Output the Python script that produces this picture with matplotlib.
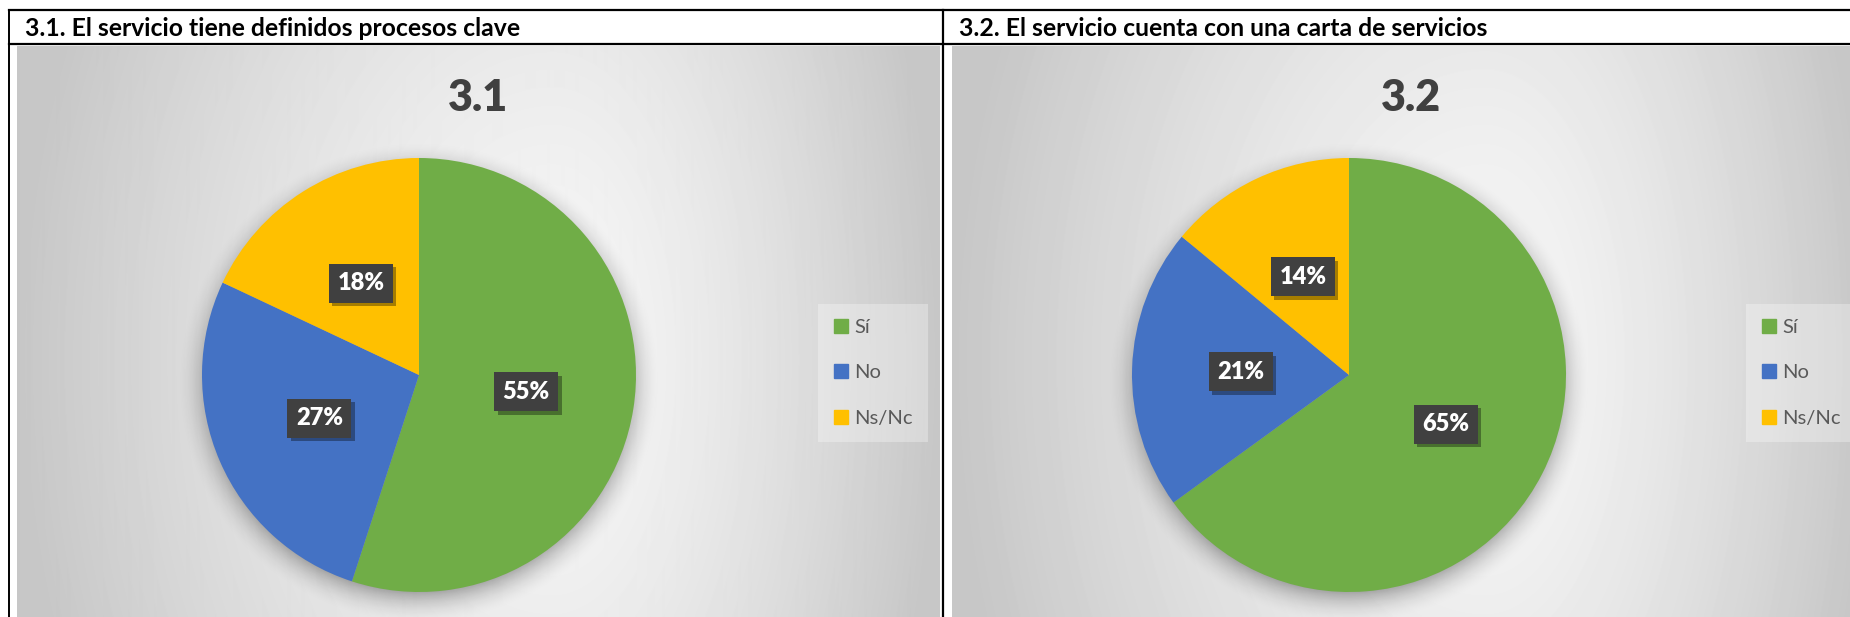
import numpy as np
import matplotlib.pyplot as plt
import matplotlib.patheffects as pe
from matplotlib.lines import Line2D

plt.rcParams['font.family'] = ['Lato', 'DejaVu Sans']

# data
categories = ['Sí', 'No', 'Ns/Nc']
colors = ['#70AD47', '#4472C4', '#FFC000']
headers = ['3.1. El servicio tiene definidos procesos clave',
           '3.2. El servicio cuenta con una carta de servicios']
titles = ['3.1', '3.2']
values_31 = [55, 27, 18]
values_32 = [65, 21, 14]

W, H = 1850, 617
fig = plt.figure(figsize=(W / 100, H / 100), dpi=100)


def rect(x0, y0, x1, y1):
    # pixel box measured from top-left -> figure fraction
    return [x0 / W, 1 - y1 / H, (x1 - x0) / W, (y1 - y0) / H]


def background(w, h):
    yy, xx = np.mgrid[0:h, 0:w].astype(float)
    cx, cy = 0.58 * w, 0.55 * h
    dx = (xx - cx) / np.where(xx < cx, cx, w - cx)
    dy = (yy - cy) / (1.4 * h)
    d = np.clip(np.sqrt(dx ** 2 + dy ** 2), 0, 1)
    return 0.968 - 0.19 * d ** 1.4


panels = [
    dict(box=(17, 46, 939, 617), pie=(419, 375), legend=(818, 304), head_x=25,
         values=values_31, header=headers[0], title=titles[0]),
    dict(box=(952, 46, 1870, 617), pie=(1349, 375), legend=(1746, 304), head_x=959,
         values=values_32, header=headers[1], title=titles[1]),
]

R = 217          # pie radius in pixels
EXT = 1.35       # axes half-width in pie radii

for p in panels:
    x0, y0, x1, y1 = p['box']
    bg = fig.add_axes(rect(x0, y0, x1, y1))
    bg.imshow(background(x1 - x0, y1 - y0), cmap='gray', vmin=0, vmax=1,
              aspect='auto', interpolation='bilinear')
    bg.axis('off')

    cx, cy = p['pie']
    half = R * EXT
    ax = fig.add_axes(rect(cx - half, cy - half, cx + half, cy + half))

    # soft shadow under the pie
    gy, gx = np.mgrid[-EXT:EXT:500j, -EXT:EXT:500j]
    d = np.hypot(gx, gy + 0.035)
    a = 0.32 * np.clip((1.12 - d) / 0.16, 0, 1) ** 2
    sh = np.zeros((500, 500, 4))
    sh[..., 3] = a
    ax.imshow(sh, origin='lower', extent=(-EXT, EXT, -EXT, EXT), zorder=0)

    wedges, texts, autotexts = ax.pie(
        p['values'], colors=colors, startangle=90, counterclock=False,
        radius=1, autopct=lambda v: f'{v:.0f}%', pctdistance=0.5,
        textprops=dict(color='white', fontsize=17, fontweight='heavy'))
    for w in wedges:
        w.set_zorder(2)
    for t in autotexts:
        t.set_zorder(3)
        t.set_bbox(dict(boxstyle='square,pad=0.36', fc='#404040', ec='none'))
        t.get_bbox_patch().set_path_effects(
            [pe.SimplePatchShadow(offset=(2.5, -2.5), shadow_rgbFace='black', alpha=0.35),
             pe.Normal()])
    ax.set_xlim(-EXT, EXT)
    ax.set_ylim(-EXT, EXT)
    ax.set_aspect('equal')
    ax.axis('off')

    handles = [Line2D([], [], ls='none', marker='s', markersize=9.4,
                      mfc=c, mec=c) for c in colors]
    lx, ly = p['legend']
    leg = ax.legend(handles, categories, loc='upper left',
                    bbox_to_anchor=(lx / W, 1 - ly / H), bbox_transform=fig.transFigure,
                    fontsize=14.5, labelcolor='#595959', handlelength=0.75,
                    handletextpad=0.3, labelspacing=1.4, borderpad=0.75,
                    borderaxespad=0, fancybox=False)
    frame = leg.get_frame()
    frame.set_facecolor('white')
    frame.set_alpha(0.3)
    frame.set_edgecolor('none')

# table lines and texts
ov = fig.add_axes([0, 0, 1, 1])
ov.set_xlim(0, W)
ov.set_ylim(H, 0)
ov.axis('off')
ov.patch.set_alpha(0)

ov.plot([9, W], [10, 10], color='black', lw=1.6)
ov.plot([9, W], [44, 44], color='black', lw=1.6)
ov.plot([9, 9], [10, H], color='black', lw=1.4)
ov.plot([943, 943], [10, H], color='black', lw=1.6)

for p in panels:
    x0, y0, x1, y1 = p['box']
    ov.text(p['head_x'], 36, p['header'], fontsize=17.8, fontweight='bold',
            color='black', va='baseline', ha='left')
    ov.text((x0 + x1) / 2, 111, p['title'], fontsize=31, fontweight='heavy',
            color='#404040', va='baseline', ha='center')

fig.savefig('out.png', dpi=100)
